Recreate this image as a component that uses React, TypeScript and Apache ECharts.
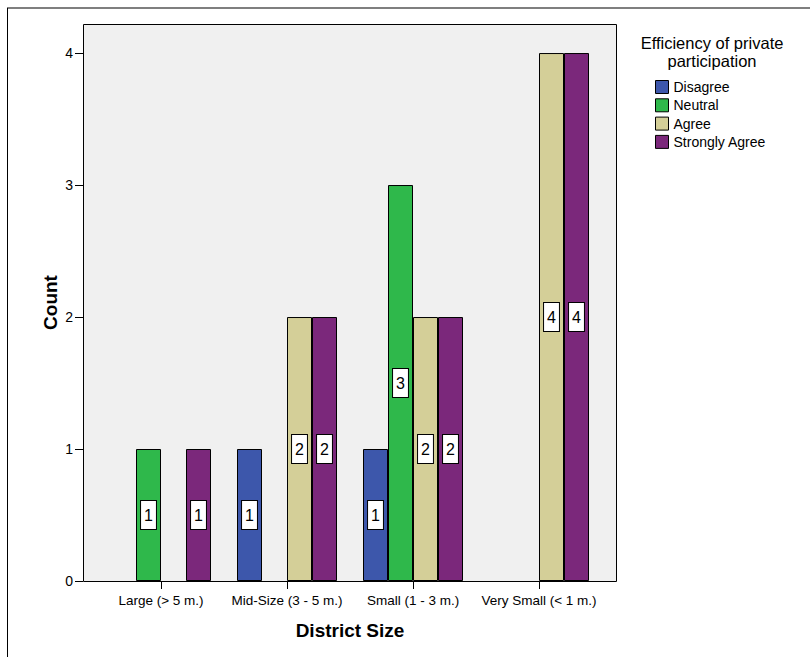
import React, { useEffect, useRef } from "react";
import * as echarts from "echarts";

// District size categories along the x axis
const categories = [
  "Large (> 5 m.)",
  "Mid-Size (3 - 5 m.)",
  "Small (1 - 3 m.)",
  "Very Small (< 1 m.)",
];

// Counts per response level (null = no responses)
const disagree = [null, 1, 1, null];
const neutral = [1, null, 3, null];
const agree = [null, 2, 2, 4];
const stronglyAgree = [1, 2, 2, 4];

const seriesNames = ["Disagree", "Neutral", "Agree", "Strongly Agree"];
const seriesColors = ["#3d57ab", "#2fb84b", "#d4cf98", "#7b287b"];

const yTicks = [0, 1, 2, 3, 4];
const yMax = 4.22;

const FONT = "'Liberation Sans', Arial, sans-serif";

export default function App() {
  const ref = useRef<HTMLDivElement>(null);

  useEffect(() => {
    if (!ref.current) return;
    const chart = echarts.init(ref.current, undefined, { renderer: "svg" });

    const values = [disagree, neutral, agree, stronglyAgree];

    const series = seriesNames.map((name, i) => ({
      name,
      type: "bar",
      data: values[i],
      barWidth: 25,
      barGap: "0%",
      itemStyle: {
        color: seriesColors[i],
        borderColor: "#000",
        borderWidth: 1,
      },
      label: {
        show: true,
        position: "inside",
        formatter: "{c}",
        color: "#000",
        fontFamily: FONT,
        fontSize: 16,
        lineHeight: 16,
        backgroundColor: "#fff",
        borderColor: "#000",
        borderWidth: 1,
        padding: [6, 3, 6, 3],
      },
    }));

    chart.setOption({
      animation: false,
      backgroundColor: "#fff",
      textStyle: { fontFamily: FONT },
      grid: {
        left: 98,
        right: 208,
        top: 24,
        bottom: 76,
        containLabel: false,
      },
      graphic: [
        // plot frame and background
        {
          type: "rect",
          z: -10,
          silent: true,
          shape: { x: 83.5, y: 24.5, width: 533, height: 557 },
          style: { fill: "#f0f0f0", stroke: "#000", lineWidth: 1 },
        },
        // outer border
        {
          type: "line",
          silent: true,
          shape: { x1: 7, y1: 8, x2: 810, y2: 8 },
          style: { stroke: "#555", lineWidth: 1.5 },
        },
        {
          type: "line",
          silent: true,
          shape: { x1: 7.5, y1: 8, x2: 7.5, y2: 657 },
          style: { stroke: "#000", lineWidth: 1 },
        },
        // y axis title
        {
          type: "text",
          silent: true,
          x: 50.5,
          y: 302.5,
          rotation: Math.PI / 2,
          style: {
            text: "Count",
            fill: "#000",
            fontSize: 19,
            fontWeight: "bold",
            fontFamily: FONT,
            align: "center",
            verticalAlign: "middle",
          },
        },
        // legend title
        {
          type: "text",
          silent: true,
          x: 712,
          y: 34,
          style: {
            text: "Efficiency of private\nparticipation",
            fill: "#000",
            fontSize: 16.5,
            fontFamily: FONT,
            lineHeight: 18,
            align: "center",
            verticalAlign: "top",
          },
        },
      ],
      legend: {
        data: seriesNames,
        orient: "vertical",
        left: 655,
        top: 80,
        padding: 0,
        itemWidth: 13,
        itemHeight: 13,
        itemGap: 4.3,
        icon: "rect",
        itemStyle: { borderColor: "#000", borderWidth: 1 },
        textStyle: {
          color: "#000",
          fontFamily: FONT,
          fontSize: 14,
          lineHeight: 13,
        },
        selectedMode: false,
      },
      xAxis: {
        type: "category",
        data: categories,
        boundaryGap: true,
        name: "District Size",
        nameLocation: "middle",
        nameGap: 40,
        nameTextStyle: {
          color: "#000",
          fontFamily: FONT,
          fontSize: 19,
          fontWeight: "bold",
        },
        axisLine: { show: false },
        axisTick: {
          show: true,
          alignWithLabel: true,
          interval: 0,
          length: 8,
          lineStyle: { color: "#000", width: 1 },
        },
        axisLabel: {
          color: "#000",
          fontFamily: FONT,
          fontSize: 13.5,
          margin: 12,
          interval: 0,
        },
        splitLine: { show: false },
      },
      yAxis: {
        type: "value",
        min: 0,
        max: yMax,
        offset: 15,
        axisLine: { show: false },
        axisTick: {
          show: true,
          length: 8,
          customValues: yTicks,
          lineStyle: { color: "#000", width: 1 },
        },
        axisLabel: {
          color: "#000",
          fontFamily: FONT,
          fontSize: 14,
          margin: 10,
          customValues: yTicks,
        },
        splitLine: { show: false },
      },
      series,
    });

    return () => chart.dispose();
  }, []);

  return (
    <div
      ref={ref}
      style={{
        position: "fixed",
        left: 0,
        top: 0,
        width: 810,
        height: 657,
      }}
    />
  );
}
